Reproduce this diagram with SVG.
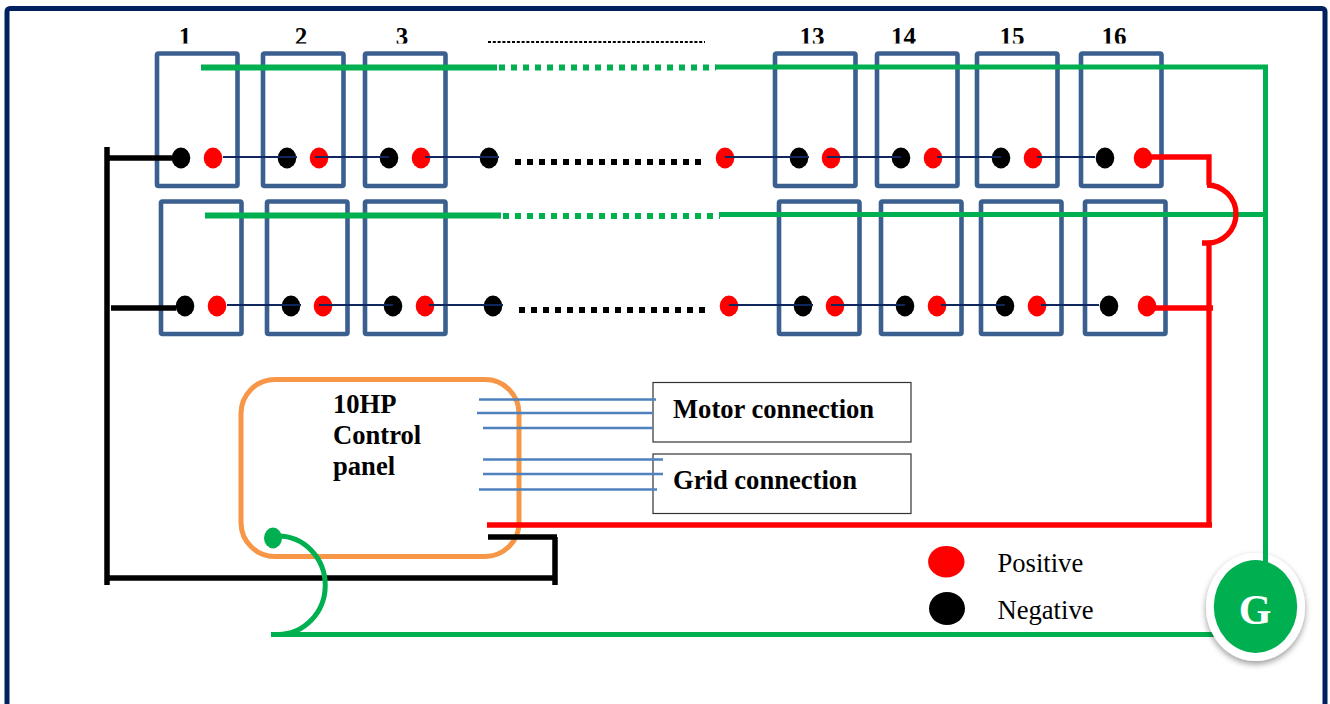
<svg xmlns="http://www.w3.org/2000/svg" width="1330" height="704" viewBox="0 0 1330 704">
<style>
.batt{fill:#fff;stroke:#3b5f8f;stroke-width:4.6;stroke-linejoin:round}
.neg{fill:#000}
.pos{fill:#f00}
.t{font-family:"Liberation Serif","Times New Roman",serif;fill:#000}
.b{font-weight:bold;font-size:26.6px}
.num{font-weight:bold;font-size:25px;text-anchor:middle}
.g{fill:none;stroke:#00b050;stroke-width:5}
.gd{fill:none;stroke:#00b050;stroke-width:6;stroke-dasharray:6 6}
.k{fill:none;stroke:#000;stroke-width:5.5}
.kd{fill:none;stroke:#000;stroke-width:6;stroke-dasharray:6 6}
.r{fill:none;stroke:#f00;stroke-width:5.3}
.n{fill:none;stroke:#10265f;stroke-width:2}
.w{fill:none;stroke:#4f81bd;stroke-width:2.6}
.lbl{fill:#fff;stroke:#333;stroke-width:1.2}
</style>
<defs>
<clipPath id="numclip"><rect x="100" y="20" width="1100" height="23.5"/></clipPath>
<filter id="sh" x="-30%" y="-30%" width="160%" height="160%"><feDropShadow dx="0" dy="3" stdDeviation="3" flood-color="#000" flood-opacity="0.4"/></filter>
<rect id="bx" class="batt" width="80.5" height="132.5" rx="1.5"/>
<ellipse id="ek" class="neg" rx="9.3" ry="10.4"/>
<ellipse id="er" class="pos" rx="9.3" ry="10.4"/>
</defs>
<rect id="frame" x="7" y="8.5" width="1318" height="800" rx="3" fill="#fff" stroke="#002060" stroke-width="5"/>
<g id="numbers" class="t num" clip-path="url(#numclip)">
<text x="185" y="44.5">1</text><text x="301" y="44.5">2</text><text x="402" y="44.5">3</text>
<text x="812" y="44.5">13</text><text x="903.5" y="44.5">14</text><text x="1012" y="44.5">15</text><text x="1114" y="44.5">16</text>
</g>
<path id="numdots" d="M488 42H705" fill="none" stroke="#000" stroke-width="1.8" stroke-dasharray="3 1.8"/>
<g id="row1">
<g id="b1-1"><use href="#bx" x="157" y="53.5"/><use href="#ek" x="181" y="158"/><use href="#er" x="213" y="158"/></g>
<g id="b1-2"><use href="#bx" x="263" y="53.5"/><use href="#ek" x="287" y="158"/><use href="#er" x="319" y="158"/></g>
<g id="b1-3"><use href="#bx" x="365" y="53.5"/><use href="#ek" x="389" y="158"/><use href="#er" x="421" y="158"/></g>
<g id="b1-13"><use href="#bx" x="775" y="53.5"/><use href="#ek" x="799" y="158"/><use href="#er" x="831" y="158"/></g>
<g id="b1-14"><use href="#bx" x="877" y="53.5"/><use href="#ek" x="901" y="158"/><use href="#er" x="933" y="158"/></g>
<g id="b1-15"><use href="#bx" x="977" y="53.5"/><use href="#ek" x="1001" y="158"/><use href="#er" x="1033" y="158"/></g>
<g id="b1-16"><use href="#bx" x="1081" y="53.5"/><use href="#ek" x="1105" y="158"/><use href="#er" x="1143" y="158"/></g>
<g id="t1-a"><use href="#ek" x="489" y="158"/></g>
<g id="t1-b"><use href="#er" x="725" y="158"/></g>
</g>
<g id="row2">
<g id="b2-1"><use href="#bx" x="161" y="201.5"/><use href="#ek" x="185" y="306"/><use href="#er" x="217" y="306"/></g>
<g id="b2-2"><use href="#bx" x="267" y="201.5"/><use href="#ek" x="291" y="306"/><use href="#er" x="323" y="306"/></g>
<g id="b2-3"><use href="#bx" x="365" y="201.5"/><use href="#ek" x="393" y="306"/><use href="#er" x="425" y="306"/></g>
<g id="b2-13"><use href="#bx" x="779" y="201.5"/><use href="#ek" x="803" y="306"/><use href="#er" x="835" y="306"/></g>
<g id="b2-14"><use href="#bx" x="881" y="201.5"/><use href="#ek" x="905" y="306"/><use href="#er" x="937" y="306"/></g>
<g id="b2-15"><use href="#bx" x="981" y="201.5"/><use href="#ek" x="1005" y="306"/><use href="#er" x="1037" y="306"/></g>
<g id="b2-16"><use href="#bx" x="1085" y="201.5"/><use href="#ek" x="1109" y="306"/><use href="#er" x="1147" y="306"/></g>
<g id="t2-a"><use href="#ek" x="493" y="306"/></g>
<g id="t2-b"><use href="#er" x="729" y="306"/></g>
</g>
<g id="panel">
<rect x="241" y="379.5" width="278" height="177" rx="34" fill="#fff" stroke="#f79646" stroke-width="5"/>
<text class="t b" x="333" y="413">10HP</text>
<text class="t b" x="333" y="444">Control</text>
<text class="t b" x="333" y="475">panel</text>
</g>
<g id="motor"><rect class="lbl" x="653" y="382.5" width="258" height="59.5"/><text class="t b" x="673" y="418">Motor connection</text></g>
<g id="grid"><rect class="lbl" x="653" y="454" width="258" height="59.5"/><text class="t b" x="673" y="489">Grid connection</text></g>
<g id="connectors">
<path class="n" d="M223 157H297M315 157H389M425 157H499M725 157H809M827 157H901M937 157H1001M1037 157H1095"/>
<path class="n" d="M227 305H301M319 305H393M429 305H503M729 305H813M831 305H905M941 305H1005M1041 305H1099"/>
<path class="g" style="stroke-width:6" d="M201 67.5H497"/>
<path class="gd" d="M499 67.5H716"/>
<path class="g" d="M715 67H1265.5V565"/>
<path class="g" style="stroke-width:6" d="M205 215.5H501"/>
<path class="gd" d="M503 216H720"/>
<path class="g" d="M719 214.5H1265"/>
<path class="kd" d="M515 162H702M519 310H706"/>
<path class="k" d="M107 147V585M107 158H172M111 308H176M105 578H556M555 537V585M488 537H557"/>
<path class="r" d="M1150 157H1209V185M1207 185A29 29 0 0 1 1207 243H1202M1209 243V526M1155 308H1213M487 525H1212"/>
<path class="w" d="M479 399.5H656M477 413H653M483 428H653M483 459.5H663M483 474H663M479 489.5H657"/>
<path class="g" d="M278 536A47 49 0 0 1 278 634.5H271M280 634.5H1220"/>
<ellipse cx="273" cy="538" rx="9" ry="10.4" fill="#00b050"/>
</g>
<g id="generator">
<ellipse cx="1255.5" cy="607" rx="49.5" ry="54" fill="#fff" filter="url(#sh)"/>
<path class="g" d="M1265.5 550V565"/>
<ellipse cx="1255.5" cy="606.5" rx="41.7" ry="46.4" fill="#00b050"/>
<text class="t" x="1255" y="624" font-size="42" font-weight="bold" text-anchor="middle" style="fill:#fff">G</text>
</g>
<g id="legend-pos"><ellipse class="pos" cx="946.3" cy="561.7" rx="18.2" ry="15.8"/><text class="t" x="997.5" y="572" font-size="26.6">Positive</text></g>
<g id="legend-neg"><ellipse class="neg" cx="947" cy="608.5" rx="18" ry="16.5"/><text class="t" x="997.5" y="619" font-size="26.6">Negative</text></g>
</svg>
